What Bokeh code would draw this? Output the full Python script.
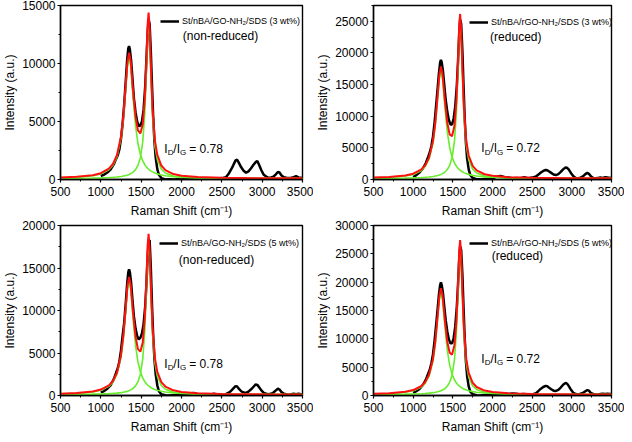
from bokeh.plotting import figure
from bokeh.layouts import column, row
from bokeh.models import Range1d, Label, Legend, LegendItem, SingleIntervalTicker, ColumnDataSource
from bokeh.embed import file_html
from bokeh.resources import INLINE

# ---------------- data ----------------
# Shared Raman-shift grid for the fitted curves (cm-1)
fit_x = [500, 700, 900, 1000, 1100, 1150, 1200, 1250, 1280, 1310, 1330, 1350, 1370, 1400,
         1430, 1460, 1490, 1520, 1545, 1565, 1580, 1592, 1605, 1620, 1640, 1670, 1700,
         1750, 1800, 1900, 2000, 2200, 2500, 3000, 3500]

# Shared Raman-shift grid for the measured spectra (cm-1)
raw_x = [1000, 1040, 1080, 1120, 1160,
         1190, 1210, 1230, 1250, 1270, 1290,
         1310, 1325, 1340, 1350, 1360, 1375, 1390,
         1410, 1430, 1450, 1470, 1490,
         1510, 1530, 1550, 1565, 1580, 1592,
         1605, 1620, 1635, 1650, 1665, 1680, 1700,
         1720, 1750, 1800, 1850, 1900,
         1950, 2000, 2050, 2100, 2150, 2200, 2250,
         2300, 2350, 2400, 2450, 2500,
         2550, 2580, 2610, 2640, 2670, 2690, 2710,
         2740, 2770, 2800, 2830, 2860, 2890, 2920, 2940,
         2960, 2990, 3020, 3050, 3080, 3110, 3140,
         3170, 3195, 3215, 3240, 3270, 3300,
         3330, 3360, 3390, 3420, 3450, 3480, 3500]

# Panel 1: St/nBA/GO-NH2/SDS (3 wt%), non-reduced
p1_raw = [300, 420, 600, 850, 1300,
          1800, 2100, 2600, 3500, 4800, 6500,
          8600, 10200, 11300, 11500, 11200, 10300, 8900,
          7000, 5800, 5000, 4600, 4650,
          5000, 6000, 8000, 10300, 12600, 13800,
          13400, 11000, 8000, 5200, 3200, 1900, 900,
          400, 120, 0, 20, 0,
          30, 10, 40, 20, 60, 30, 50,
          80, 60, 100, 70, 120,
          200, 450, 800, 1200, 1650, 1700, 1450,
          1050, 750, 580, 700, 950, 1250, 1500, 1600,
          1300, 800, 400, 250, 150, 180, 250,
          450, 650, 600, 350, 200, 150,
          120, 150, 200, 280, 180, 150, 120]
p1_D = [150, 201, 328, 484, 843, 1225, 1960, 3535, 5330, 7997, 9793, 10580, 9793, 7031,
        4637, 3104, 2180, 1603, 1277, 1087, 970, 891, 816, 742, 658, 560, 484,
        392, 328, 247, 201, 150, 119, 99, 92]
p1_G = [98, 107, 125, 141, 169, 189, 219, 262, 299, 346, 388, 439, 504, 640,
        856, 1214, 1876, 3266, 5750, 9355, 12460, 13580, 12284, 9139, 5615, 2888, 1714,
        893, 562, 304, 208, 138, 106, 91, 85]
p1_sum = [168, 228, 373, 545, 932, 1334, 2099, 3717, 5549, 8263, 10101, 10939, 10217, 7591,
          5413, 4238, 3976, 4789, 6947, 10362, 13350, 14391, 13020, 9801, 6193, 3368, 2118,
          1205, 810, 471, 329, 208, 145, 110, 97]

# Panel 2: St/nBA/rGO-NH2/SDS (3 wt%), reduced
p2_raw = [400, 700, 1100, 1700, 2600,
          3600, 4300, 5300, 6800, 9000, 11800,
          14600, 16800, 18500, 18900, 18500, 17200, 15200,
          12600, 10700, 9400, 8700, 8700,
          9600, 11500, 14800, 18500, 22800, 25300,
          24600, 20500, 14800, 9500, 5800, 3300, 1600,
          700, 250, 50, 20, 60,
          100, 150, 450, 550, 400, 300, 200,
          250, 200, 350, 200, 300,
          500, 800, 1100, 1350, 1500, 1450, 1300,
          1050, 800, 700, 850, 1200, 1600, 1900, 1850,
          1600, 1000, 500, 250, 200, 300, 500,
          850, 1050, 900, 500, 250, 200,
          250, 300, 250, 350, 300, 250, 300]
p2_D = [264, 346, 552, 806, 1390, 2008, 3202, 5759, 8675, 13006, 15921, 17200, 15921, 11437,
        7550, 5060, 3560, 2622, 2094, 1785, 1596, 1466, 1345, 1224, 1088, 929, 806,
        656, 552, 421, 346, 264, 213, 181, 169]
p2_G = [183, 199, 232, 261, 313, 350, 404, 483, 550, 637, 713, 807, 926, 1175,
        1570, 2225, 3435, 5979, 10524, 17119, 22800, 24850, 22479, 16724, 10277, 5288, 3139,
        1637, 1032, 560, 385, 256, 197, 170, 160]
p2_sum = [297, 395, 634, 917, 1553, 2208, 3456, 6092, 9075, 13493, 16484, 17857, 16697, 12462,
          8970, 7135, 6845, 8451, 12468, 18754, 24246, 26166, 23674, 17798, 11215, 6067, 3795,
          2143, 1434, 831, 581, 370, 260, 201, 179]

# Panel 3: St/nBA/GO-NH2/SDS (5 wt%), non-reduced
p3_raw = [350, 520, 800, 1200, 1900,
          2700, 3200, 4000, 5300, 7000, 8600,
          11000, 13000, 14500, 14850, 14500, 13300, 11500,
          9300, 7900, 7000, 6600, 6800,
          7300, 8400, 10500, 13000, 16200, 18000,
          18300, 15000, 10500, 6800, 4200, 2500, 1200,
          500, 150, 20, 0, 30,
          50, 80, 100, 200, 300, 150, 100,
          150, 100, 200, 120, 100,
          150, 300, 500, 800, 1100, 1050, 800,
          500, 350, 300, 450, 700, 1000, 1300, 1250,
          1000, 600, 300, 200, 150, 200, 350,
          600, 800, 700, 400, 200, 150,
          100, 150, 200, 150, 200, 150, 150]
p3_D = [190, 254, 416, 615, 1073, 1558, 2495, 4502, 6790, 10189, 12477, 13480, 12477, 8958,
        5907, 3953, 2776, 2040, 1625, 1383, 1235, 1133, 1038, 943, 836, 711, 615,
        497, 416, 313, 254, 190, 150, 124, 115]
p3_G = [124, 136, 159, 181, 218, 245, 284, 342, 390, 453, 508, 576, 662, 843,
        1129, 1604, 2481, 4324, 7618, 12397, 16514, 18000, 16282, 12111, 7439, 3823, 2266,
        1178, 739, 397, 270, 177, 134, 114, 107]
p3_sum = [214, 290, 475, 696, 1191, 1703, 2679, 4744, 7080, 10542, 12885, 13956, 13039, 9701,
          6936, 5457, 5157, 6264, 9143, 13680, 17649, 19033, 17220, 12954, 8175, 4434, 2781,
          1575, 1055, 610, 424, 267, 184, 138, 122]

# Panel 4: St/nBA/rGO-NH2/SDS (5 wt%), reduced
p4_raw = [450, 750, 1150, 1800, 2800,
          3900, 4600, 5700, 7300, 9700, 12500,
          15500, 17800, 19500, 19960, 19500, 18100, 16000,
          13300, 11300, 9900, 9200, 9200,
          10100, 12100, 15600, 19400, 23800, 26300,
          25700, 21500, 15500, 10000, 6000, 3400, 1600,
          700, 250, 50, 20, 80,
          120, 200, 250, 350, 300, 250, 350,
          300, 200, 250, 150, 200,
          400, 800, 1200, 1500, 1700, 1650, 1400,
          1100, 850, 800, 1000, 1400, 1900, 2200, 2100,
          1700, 1000, 450, 250, 200, 300, 450,
          750, 950, 850, 450, 250, 200,
          150, 250, 300, 250, 300, 250, 250]
p4_D = [271, 358, 577, 846, 1465, 2122, 3388, 6102, 9195, 13790, 16883, 18240, 16883, 12126,
        8001, 5360, 3768, 2773, 2212, 1885, 1684, 1547, 1418, 1290, 1145, 977, 846,
        687, 577, 438, 358, 271, 217, 183, 170]
p4_G = [185, 202, 235, 267, 321, 360, 417, 500, 570, 660, 741, 839, 963, 1225,
        1639, 2326, 3595, 6262, 11028, 17943, 23900, 26050, 23564, 17529, 10769, 5537, 3284,
        1709, 1075, 580, 396, 261, 199, 171, 160]
p4_sum = [306, 410, 662, 963, 1636, 2332, 3655, 6452, 9615, 14300, 17474, 18929, 17696, 13201,
          9490, 7536, 7213, 8885, 13090, 19678, 25434, 27447, 24832, 18669, 11764, 6364, 3980,
          2246, 1502, 868, 604, 382, 266, 204, 180]

samples = ["St/nBA/GO-NH\u2082/SDS (3 wt%)", "St/nBA/rGO-NH\u2082/SDS (3 wt%)",
           "St/nBA/GO-NH\u2082/SDS (5 wt%)", "St/nBA/rGO-NH\u2082/SDS (5 wt%)"]
states = ["(non-reduced)", "(reduced)", "(non-reduced)", "(reduced)"]
ratios = ["0.78", "0.72", "0.78", "0.72"]
y_max = [15000, 27500, 20000, 30000]

# ---------------- styling ----------------
FONT = "Liberation Sans"
RED = "#ff1010"
GREEN = "#66ee2a"


def panel(raw, d, g, s, sample, state, ratio, ymax, geom, leg_loc, state_xy, ratio_xy):
    bl, fw, br, bt, fh, bb = geom
    p = figure(frame_width=fw, frame_height=fh,
               min_border_left=bl, min_border_right=br, min_border_top=bt, min_border_bottom=bb,
               x_range=Range1d(500, 3500), y_range=Range1d(0, ymax),
               output_backend="svg", toolbar_location=None)
    p.grid.visible = False
    p.outline_line_color = "black"
    p.outline_line_width = 1.4
    p.background_fill_color = "white"
    p.border_fill_color = "white"

    p.xaxis.ticker = SingleIntervalTicker(interval=500, num_minor_ticks=2)
    p.yaxis.ticker = SingleIntervalTicker(interval=5000, num_minor_ticks=2)
    p.xaxis.axis_label = "Raman Shift (cm\u207b\u00b9)"
    p.yaxis.axis_label = "Intensity (a.u.)"
    for ax in (p.xaxis[0], p.yaxis[0]):
        ax.axis_label_text_font = FONT
        ax.axis_label_text_font_size = "12px"
        ax.axis_label_text_font_style = "normal"
        ax.axis_label_text_color = "black"
        ax.major_label_text_font = FONT
        ax.major_label_text_font_size = "12px"
        ax.major_label_text_color = "black"
        ax.axis_line_width = 1.4
        ax.major_tick_in = 0
        ax.major_tick_out = 3
        ax.minor_tick_in = 0
        ax.minor_tick_out = 2
        ax.major_tick_line_width = 1.2
    p.xaxis.major_label_standoff = 4
    p.xaxis.axis_label_standoff = 5
    p.yaxis.major_label_standoff = 2
    p.yaxis.axis_label_standoff = 2

    raw_src = ColumnDataSource(dict(x=raw_x, y=raw))
    fit_src = ColumnDataSource(dict(x=fit_x, d=d, g=g, s=s))
    black = p.line("x", "y", source=raw_src, line_color="black", line_width=2.5)
    p.line("x", "d", source=fit_src, line_color=GREEN, line_width=1.6)
    p.line("x", "g", source=fit_src, line_color=GREEN, line_width=1.6)
    p.line("x", "s", source=fit_src, line_color=RED, line_width=2.0)

    leg = Legend(items=[LegendItem(label=sample, renderers=[black])], location=leg_loc,
                 border_line_alpha=0, background_fill_alpha=0, padding=0, margin=0,
                 spacing=0, glyph_width=19, glyph_height=10, label_height=10,
                 label_standoff=3, label_text_font=FONT, label_text_font_size="9px",
                 label_text_color="black")
    p.add_layout(leg)

    p.add_layout(Label(x=state_xy[0], y=state_xy[1], text=state, text_font=FONT,
                       text_font_size="12px", text_baseline="middle", text_color="black"))
    rx, ry = ratio_xy
    parts = [("I", 0, 0, "12px"), ("D", 3.6, -4, "8px"), ("/I", 9.2, 0, "12px"),
             ("G", 15.8, -4, "8px"), ("= " + ratio, 25, 0, "12px")]
    for t, dx, dy, fs in parts:
        p.add_layout(Label(x=rx, y=ry, x_offset=dx, y_offset=dy, text=t, text_font=FONT,
                           text_font_size=fs, text_baseline="middle", text_color="black"))
    return p


# (border_left, frame_width, border_right, border_top, frame_height, border_bottom)
g1 = (56, 242, 11, 5, 174, 41)
g2 = (56, 238, 13, 5, 174, 41)
g3 = (56, 242, 11, 5, 170, 39)
g4 = (56, 238, 13, 5, 170, 39)

p1 = panel(p1_raw, p1_D, p1_G, p1_sum, samples[0], states[0], ratios[0], y_max[0], g1,
           (100, 153), (2016, 12400), (1785, 2650))
p2 = panel(p2_raw, p2_D, p2_G, p2_sum, samples[1], states[1], ratios[1], y_max[1], g2,
           (96, 152), (1970, 22480), (1858, 4950))
p3 = panel(p3_raw, p3_D, p3_G, p3_sum, samples[2], states[2], ratios[2], y_max[2], g3,
           (99, 147), (1967, 15990), (1785, 3760))
p4 = panel(p4_raw, p4_D, p4_G, p4_sum, samples[3], states[3], ratios[3], y_max[3], g4,
           (96, 147), (1990, 24590), (1858, 6510))

layout = column(row(p1, p2, spacing=0), row(p3, p4, spacing=0), spacing=0)

open("out.html", "w").write(file_html(layout, INLINE))
